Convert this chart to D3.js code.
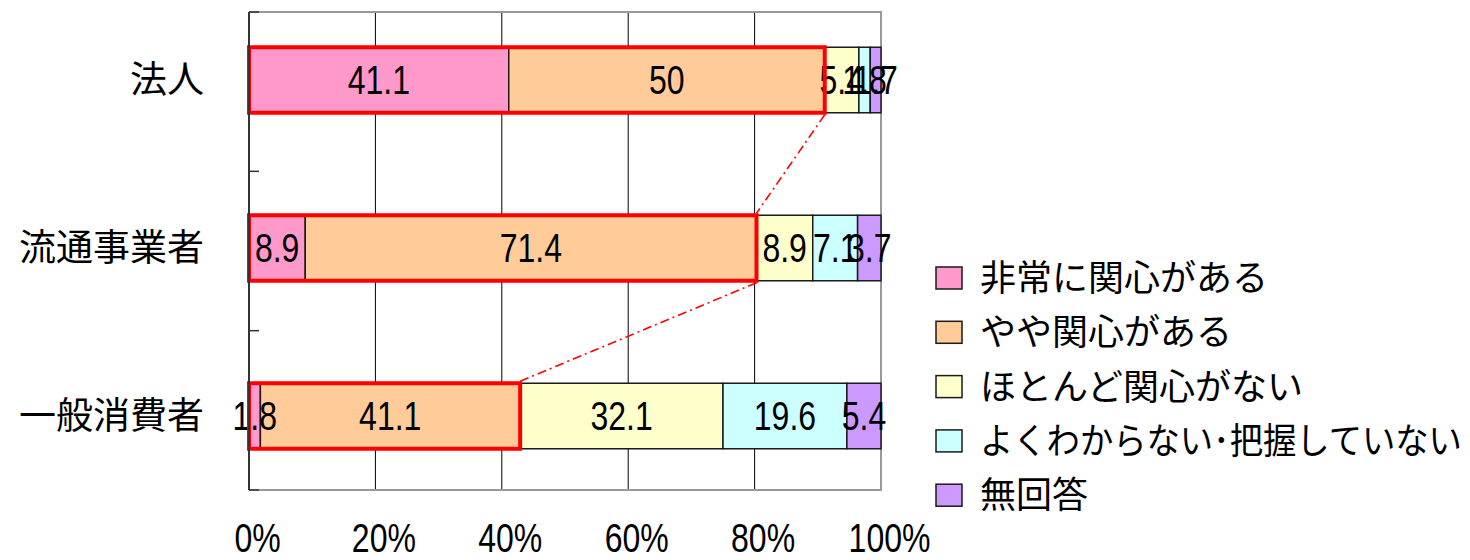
<!DOCTYPE html>
<html>
<head>
<meta charset="utf-8">
<script src="https://cdn.jsdelivr.net/npm/d3@7"></script>
<style>
  body { margin: 0; background: #fff; }
</style>
</head>
<body>
<div id="chart"></div>
<script>
// data
var categories = ["法人", "流通事業者", "一般消費者"];
var seriesNames = ["非常に関心がある", "やや関心がある", "ほとんど関心がない", "よくわからない･把握していない", "無回答"];
var seriesColors = ["#ff99cc", "#ffcc99", "#ffffcc", "#ccffff", "#cc99ff"];
var values = [
    [41.1, 50.0, 5.4, 1.8, 1.7],
    [8.9, 71.4, 8.9, 7.1, 3.7],
    [1.8, 41.1, 32.1, 19.6, 5.4]
];
var highlightCount = 2; // first two segments are boxed in red
var xTicks = [0, 20, 40, 60, 80, 100];

var width = 1470, height = 560;
var numFont = "'Liberation Sans', Arial, sans-serif";
var narrow = 0.8; // the numbers in the original are set in a condensed face
var jpFont = "'Noto Sans CJK JP', sans-serif";

var svg = d3.select("#chart")
    .append("svg")
    .attr("width", width)
    .attr("height", height);

var x = d3.scaleLinear().domain([0, 100]).range([249, 881]);
// category bands for the axis frame
var yAxisBand = d3.scaleBand().domain(categories).range([12, 490]);
// bars sit a bit wider apart than the bands in the original
var y = d3.scaleBand().domain(categories).range([-4, 500])
    .paddingInner(0.61).paddingOuter(0.305);

// vertical gridlines
svg.append("g")
    .selectAll("line")
    .data(xTicks.filter(d => d > 0 && d < 100))
    .enter()
    .append("line")
    .attr("x1", d => x(d))
    .attr("x2", d => x(d))
    .attr("y1", 12)
    .attr("y2", 490)
    .style("stroke", "#000")
    .style("stroke-width", 1);

// frame (top, right, bottom)
svg.append("path")
    .attr("d", "M" + x(0) + ",12H" + x(100) + "V490H" + x(0))
    .style("fill", "none")
    .style("stroke", "#999")
    .style("stroke-width", 2);

// stacked segments
var rows = values.map(function(vals, i) {
    var acc = 0;
    return vals.map(function(v, j) {
        var seg = { cat: categories[i], series: j, value: v, x0: acc, x1: acc + v };
        acc += v;
        return seg;
    });
});
var segs = d3.merge(rows);

svg.append("g")
    .selectAll("rect")
    .data(segs)
    .enter()
    .append("rect")
    .attr("x", d => x(d.x0))
    .attr("y", d => y(d.cat))
    .attr("width", d => x(d.x1) - x(d.x0))
    .attr("height", y.bandwidth())
    .style("fill", d => seriesColors[d.series])
    .style("stroke", "#1a1a1a")
    .style("stroke-width", 1.5);

svg.append("g")
    .selectAll("text")
    .data(segs)
    .enter()
    .append("text")
    .text(d => d3.format("~g")(d.value))
    .attr("transform", d => "translate(" + x((d.x0 + d.x1) / 2) + "," +
        (y(d.cat) + y.bandwidth() / 2) + ") scale(" + narrow + ",1)")
    .attr("dy", "0.36em")
    .attr("text-anchor", "middle")
    .attr("font-family", numFont)
    .attr("font-size", "40px")
    .attr("fill", "#000");

// red highlight boxes and dash-dot connectors
var boxEnds = values.map(vals => d3.sum(vals.slice(0, highlightCount)));

svg.append("g")
    .selectAll("rect")
    .data(categories)
    .enter()
    .append("rect")
    .attr("x", x(0))
    .attr("y", d => y(d))
    .attr("width", (d, i) => x(boxEnds[i]) - x(0))
    .attr("height", y.bandwidth())
    .style("fill", "none")
    .style("stroke", "#ff0000")
    .style("stroke-width", 4);

svg.append("g")
    .selectAll("line")
    .data(categories.slice(0, -1))
    .enter()
    .append("line")
    .attr("x1", (d, i) => x(boxEnds[i]))
    .attr("y1", d => y(d) + y.bandwidth() + 2)
    .attr("x2", (d, i) => x(boxEnds[i + 1]))
    .attr("y2", (d, i) => y(categories[i + 1]) - 2)
    .style("stroke", "#ff0000")
    .style("stroke-width", 1.6)
    .style("stroke-dasharray", "9,4,2,4");

// left axis with ticks at the band boundaries
var bounds = categories.map(c => yAxisBand(c)).concat([yAxisBand.range()[1]]);
svg.append("line")
    .attr("x1", x(0)).attr("x2", x(0))
    .attr("y1", 12).attr("y2", 490)
    .style("stroke", "#333")
    .style("stroke-width", 2);
svg.append("g")
    .selectAll("line")
    .data(bounds)
    .enter()
    .append("line")
    .attr("x1", x(0))
    .attr("x2", x(0) + 10)
    .attr("y1", d => d)
    .attr("y2", d => d)
    .style("stroke", "#333")
    .style("stroke-width", 1.5);

// category labels
svg.append("g")
    .selectAll("text")
    .data(categories)
    .enter()
    .append("text")
    .text(d => d)
    .attr("x", 204)
    .attr("y", d => y(d) + y.bandwidth() / 2)
    .attr("dy", "0.36em")
    .attr("text-anchor", "end")
    .attr("font-family", jpFont)
    .attr("font-size", "37px")
    .attr("fill", "#000");

// bottom percent labels
var xAxis = svg.append("g")
    .attr("transform", "translate(0,490)")
    .call(d3.axisBottom(x).tickValues(xTicks).tickSize(0).tickPadding(34)
        .tickFormat(d => d + "%"));
xAxis.select(".domain").remove();
xAxis.selectAll("text")
    .attr("transform", "translate(8,0) scale(" + narrow + ",1)")
    .attr("font-family", numFont)
    .attr("font-size", "40px")
    .attr("fill", "#000");

// legend
var legend = svg.append("g")
    .selectAll("g")
    .data(seriesNames)
    .enter()
    .append("g")
    .attr("transform", (d, i) => "translate(936," + (278 + i * 54.3) + ")");

legend.append("rect")
    .attr("x", 0)
    .attr("y", -11)
    .attr("width", 26)
    .attr("height", 22)
    .style("fill", (d, i) => seriesColors[i])
    .style("stroke", "#1a1a1a")
    .style("stroke-width", 1.5);

legend.append("text")
    .text(d => d)
    .attr("dy", "0.36em")
    .attr("font-family", jpFont)
    .attr("font-size", "36px")
    .attr("fill", "#000")
    .each(function() {
        // squeeze the long label so it stays inside the window, like the original
        var room = width - 936 - 44 - 8;
        var len = this.getComputedTextLength();
        var k = len > room ? room / len : 1;
        d3.select(this).attr("transform", "translate(44,0) scale(" + k + ",1)");
    });
</script>
</body>
</html>
